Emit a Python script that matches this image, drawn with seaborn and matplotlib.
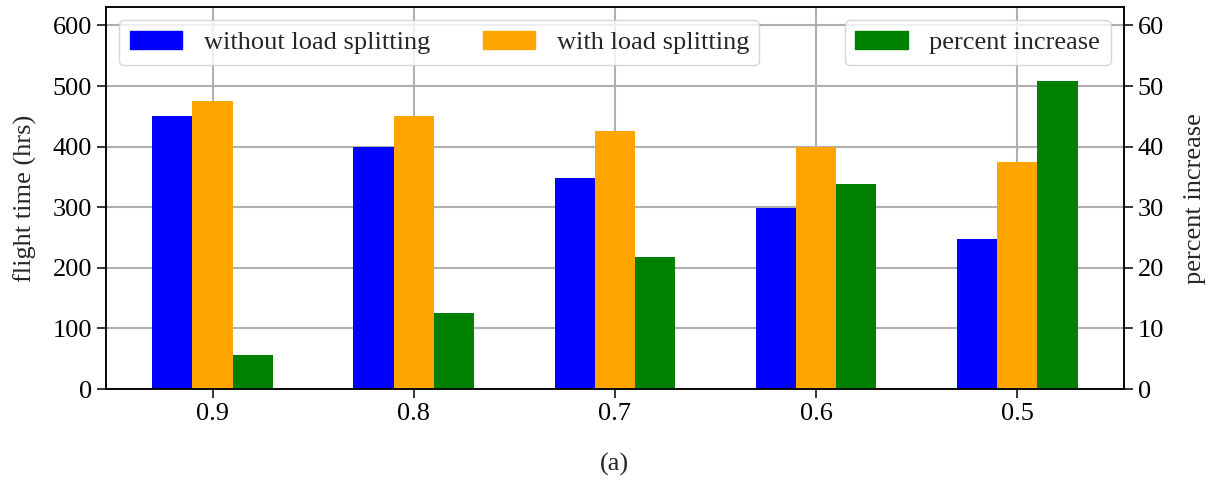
import pandas as pd
import numpy as np
import matplotlib
matplotlib.use('Agg')
import matplotlib.pyplot as plt
from matplotlib.patches import Patch
import seaborn as sns

# Data
ratios = ['0.9', '0.8', '0.7', '0.6', '0.5']
without_split = [451, 400, 349, 299, 248]
with_split = [476, 451, 425, 400, 374]
pct_increase = [5.6, 12.6, 21.8, 33.9, 50.9]

labels = ['without load splitting', 'with load splitting', 'percent increase']
colors = {'without load splitting': 'blue',
          'with load splitting': 'orange',
          'percent increase': 'green'}

sns.set_style('ticks')
plt.rcParams['font.family'] = ['Liberation Serif', 'DejaVu Serif']
plt.rcParams['font.size'] = 19
plt.rcParams['axes.linewidth'] = 1.1
plt.rcParams['xtick.major.size'] = 6.5
plt.rcParams['ytick.major.size'] = 6.5
plt.rcParams['xtick.direction'] = 'out'
plt.rcParams['ytick.direction'] = 'out'

time_df = pd.DataFrame({
    'ratio': ratios * 2,
    'value': without_split + with_split,
    'series': [labels[0]] * len(ratios) + [labels[1]] * len(ratios),
})
pct_df = pd.DataFrame({
    'ratio': ratios,
    'value': pct_increase,
    'series': [labels[2]] * len(ratios),
})

fig, ax = plt.subplots(figsize=(12.11, 4.83), dpi=100)
fig.subplots_adjust(left=0.0875, right=0.928, bottom=0.1946, top=0.985)

sns.barplot(data=time_df, x='ratio', y='value', hue='series', hue_order=labels,
            order=ratios, palette=colors, saturation=1, errorbar=None,
            width=0.6, dodge=True, linewidth=0, legend=False, ax=ax)
ax2 = ax.twinx()
sns.barplot(data=pct_df, x='ratio', y='value', hue='series', hue_order=labels,
            order=ratios, palette=colors, saturation=1, errorbar=None,
            width=0.6, dodge=True, linewidth=0, legend=False, ax=ax2)

ax.set_xlim(-0.53, 4.53)
ax.set_ylim(0, 630)
ax2.set_ylim(0, 63)
ax.set_yticks(np.arange(0, 601, 100))
ax2.set_yticks(np.arange(0, 61, 10))

ax.grid(True, color='#b0b0b0', linewidth=1.5)
ax.set_axisbelow(True)
ax2.grid(False)

ax.set_xlabel('(a)', labelpad=20)
ax.set_ylabel('flight time (hrs)', labelpad=11)
ax2.set_ylabel('percent increase', labelpad=14)
ax2.set_xlabel('')

for a in (ax, ax2):
    for s in a.spines.values():
        s.set_visible(True)
        s.set_color('black')
    a.tick_params(colors='black', width=1.1)

left_handles = [Patch(color=colors[l], label=l) for l in labels[:2]]
right_handles = [Patch(color=colors[labels[2]], label=labels[2])]
leg1 = ax2.legend(handles=left_handles, loc='upper left', ncol=2,
                  framealpha=0.8, edgecolor='#cccccc', fancybox=True)
ax2.add_artist(leg1)
ax2.legend(handles=right_handles, loc='upper right',
           framealpha=0.8, edgecolor='#cccccc', fancybox=True)

plt.savefig('out.png', dpi=100)
